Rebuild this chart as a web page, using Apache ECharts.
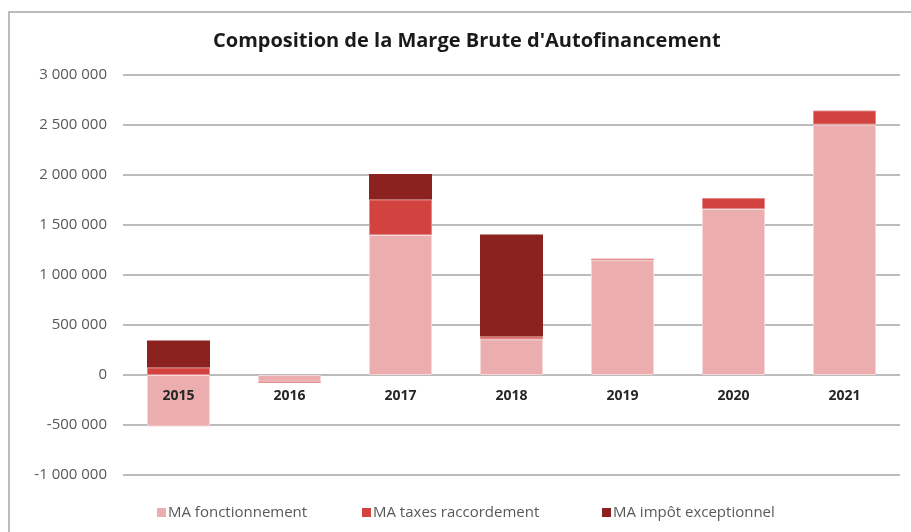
<!DOCTYPE html>
<html lang="fr">
<head>
    <meta charset="utf-8">
    <title>Composition de la Marge Brute d'Autofinancement</title>
    <script src="https://cdn.jsdelivr.net/npm/echarts@6/dist/echarts.min.js"></script>
    <style>
        html, body { margin: 0; padding: 0; background: #fff; }
        #main { width: 911px; height: 532px; }
    </style>
</head>
<body>
<div id="main"></div>

<script type="text/javascript">
    // données
    var annees = ['2015', '2016', '2017', '2018', '2019', '2020', '2021'];
    var fonctionnement = [-515000, -68000, 1400000, 357000, 1148000, 1660000, 2505000];
    var taxesRaccordement = [75000, -8000, 355000, 27000, 15000, 110000, 140000];
    var impotExceptionnel = [270000, 0, 255000, 1020000, 0, 0, 0];
    var yTicks = { min: -1000000, max: 3000000, step: 500000 };
    var noms = ['MA fonctionnement', 'MA taxes raccordement', 'MA impôt exceptionnel'];

    var myChart = echarts.init(document.getElementById('main'));

    // 3000000 -> "3 000 000"
    var formatNombre = function (v) {
        return String(v).replace(/\B(?=(\d{3})+(?!\d))/g, ' ');
    };

    var police = '"Open Sans", Lato, sans-serif';

    // une légende par entrée pour retrouver l'espacement d'origine
    var posLegende = [152, 357, 597];
    var legendes = noms.map(function (nom, i) {
        return {
            left: posLegende[i],
            top: 500,
            itemWidth: 9,
            itemHeight: 9,
            icon: 'rect',
            itemStyle: { borderWidth: 0 },
            textStyle: { fontSize: 15, color: '#595959', padding: [0, 0, 0, -3] },
            data: [nom]
        };
    });

    myChart.setOption({
        animation: false,
        textStyle: { fontFamily: police },
        title: {
            text: "Composition de la Marge Brute d'Autofinancement",
            left: 208,
            top: 26,
            textStyle: { fontSize: 20, fontWeight: 'bold', color: '#1a1a1a', fontFamily: police }
        },
        legend: legendes,
        grid: { left: 123, right: 11, top: 75, bottom: 57 },
        xAxis: {
            type: 'category',
            data: annees,
            z: 5,
            // axe placé sur la ligne du zéro
            offset: -100,
            axisLine: { show: false, onZero: false },
            axisTick: { show: false },
            axisLabel: { margin: 14, fontSize: 14, fontWeight: 'bold', color: '#262626' }
        },
        yAxis: {
            type: 'value',
            min: yTicks.min,
            max: yTicks.max,
            interval: yTicks.step,
            axisLine: { show: false },
            axisTick: { show: false },
            axisLabel: { margin: 16, fontSize: 15, color: '#595959', formatter: formatNombre },
            splitLine: { lineStyle: { color: '#a6a6a6', width: 1.5 } }
        },
        series: [{
            name: noms[0],
            type: 'bar',
            stack: 'mba',
            barWidth: 63,
            itemStyle: { color: '#ebadad', borderColor: '#f6d6d6', borderWidth: 1 },
            data: fonctionnement
        }, {
            name: noms[1],
            type: 'bar',
            stack: 'mba',
            itemStyle: { color: '#d2433f', borderColor: '#e28a87', borderWidth: 1 },
            data: taxesRaccordement
        }, {
            name: noms[2],
            type: 'bar',
            stack: 'mba',
            itemStyle: { color: '#8b2220', borderWidth: 0 },
            data: impotExceptionnel
        }],
        graphic: [{
            // cadre du graphique (haut et gauche visibles)
            type: 'rect',
            silent: true,
            shape: { x: 9, y: 12, width: 960, height: 600 },
            style: { fill: 'none', stroke: '#a6a6a6', lineWidth: 1.5 }
        }]
    });
</script>
</body>
</html>
